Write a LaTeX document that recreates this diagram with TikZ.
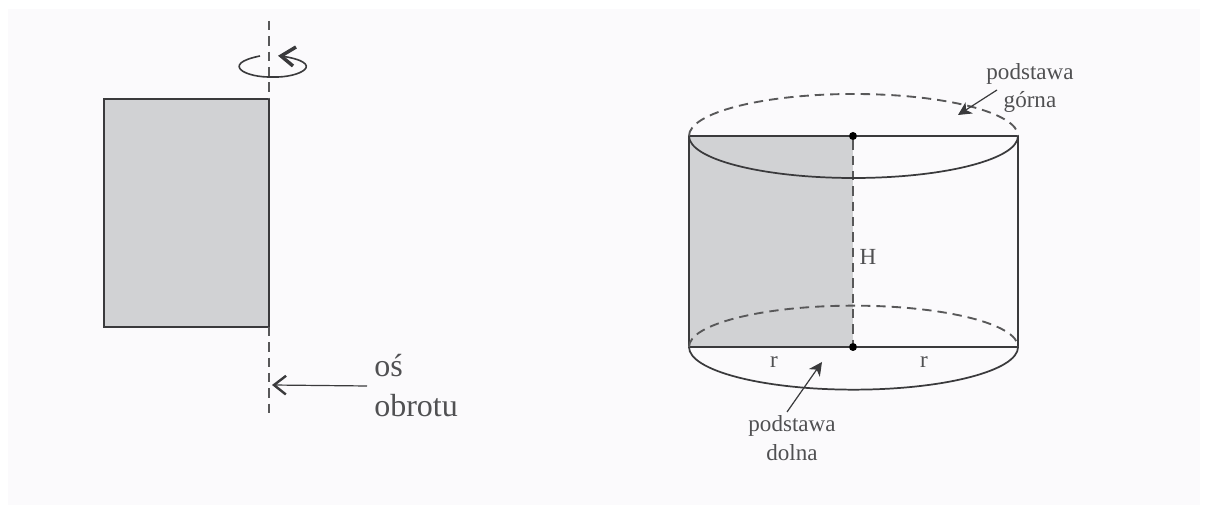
\documentclass[tikz,border=0pt]{standalone}
\usepackage{fontspec}
\setmainfont{Liberation Serif}
\usetikzlibrary{arrows.meta,positioning,calc}
\definecolor{greyfill}{HTML}{D1D2D4}
\definecolor{ink}{HTML}{3A3A3C}
\definecolor{labelink}{HTML}{505052}
\definecolor{paper}{HTML}{FBFAFC}
\tikzset{
	outline/.style = {draw=ink, line width=1.8pt},
	thinline/.style = {draw=ink, line width=1.3pt},
	dashline/.style = {draw=ink!85, line width=1.4pt, dash pattern=on 7pt off 4.5pt},
	pointer/.style = {draw=ink, line width=0.9pt, -{Straight Barb[length=9pt,width=14pt,line width=1.8pt]}},
	smallpointer/.style = {draw=ink, line width=0.9pt, -{Stealth[length=10pt,width=10pt,inset=3pt]}},
	vertex/.style = {circle, fill=black, inner sep=0pt, minimum size=6pt},
	biglabel/.style = {font=\fontsize{24}{30}\selectfont, text=labelink, inner sep=0pt, align=left},
	smalllabel/.style = {font=\fontsize{17.3}{21.5}\selectfont, text=labelink, inner sep=0pt, align=center},
}
\begin{document}
\begin{tikzpicture}[x=0.75pt,y=0.75pt]
			\useasboundingbox (0,0) rectangle (1208,506);
			\fill[paper] (8,1) rectangle (1200,497);

			% rectangle and its axis
			\fill[greyfill] (104,407) rectangle (269,179);
			\draw[outline] (104,407) rectangle (269,179);
			\coordinate (axistop) at (269,485);
			\coordinate (axisbottom) at (269,92);
			\coordinate (axisarrow) at (272,121);
			\draw[dashline] (axistop) -- (269,407);
			\draw[dashline] (269,179) -- (axisbottom);

			% rotation mark
			\coordinate (turnstart) at (260,450);
			\coordinate (turnend) at (281,450);
			\draw[draw=ink, line width=1.2pt] (turnstart) .. controls (220,442) and (245,428) .. (273,429)
				.. controls (300,428) and (328,443) .. (turnend);
			\draw[draw=ink, line width=2.6pt] (296,459) -- (turnend) -- (293,440);

			\node[biglabel, anchor=west] (axislabel) at (374,120) {oś\\obrotu};
			\draw[pointer] (367,120) -- (axisarrow);

			% cylinder
			\fill[greyfill] (689,370) rectangle (853,159);
			\node[vertex] (topdot) at (853,370) {};
			\node[vertex] (botdot) at (853,159) {};
			\coordinate (topleft) at (689,370);
			\coordinate (topright) at (1018,370);
			\coordinate (botleft) at (689,159);
			\coordinate (botright) at (1018,159);
			\draw[outline] (topleft) -- (topdot) -- (topright) -- (botright);
			\draw[outline] (topleft) -- (botleft) -- (botdot) -- (botright);
			\draw[dashline] (topdot) -- (botdot);

			% top base
			\draw[thinline] (topleft) arc[start angle=180, end angle=360, x radius=123.4pt, y radius=31.5pt];
			\draw[dashline] (topleft) arc[start angle=180, end angle=0, x radius=123.4pt, y radius=31.5pt];

			% bottom base
			\draw[thinline] (botleft) arc[start angle=180, end angle=360, x radius=123.4pt, y radius=32pt];
			\draw[dashline] (botleft) arc[start angle=180, end angle=0, x radius=123.4pt, y radius=31pt];

			\node[smalllabel] (toplabel) at (1030,418) {podstawa\\górna};
			\node[smalllabel] (botlabel) at (792,68) {podstawa\\dolna};
			\coordinate (toptip) at (958,391);
			\coordinate (bottip) at (822,144);
			\draw[smallpointer] (997,416) -- (toptip);
			\draw[smallpointer] (787,94) -- (bottip);

			\node[smalllabel] (hlabel) at (868,249) {H};
			\node[smalllabel] (rleft) at (774,144) {r};
			\node[smalllabel] (rright) at (924,144) {r};
		\end{tikzpicture}
\end{document}
